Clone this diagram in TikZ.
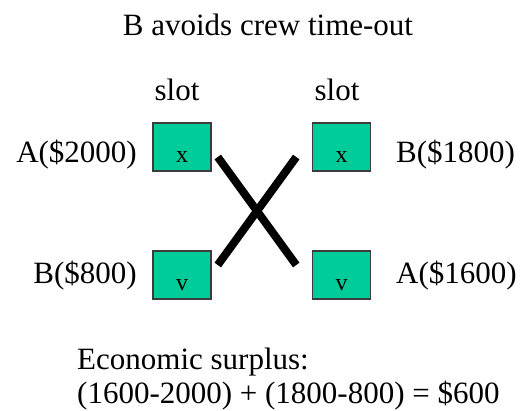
\documentclass[tikz,border=0pt]{standalone}
\usepackage{fontspec}
\setmainfont{Liberation Serif}
\usepackage{tikz}
\usetikzlibrary{positioning, calc}
\usepackage{xcolor}
\definecolor{slotgreen}{RGB}{0,204,153}
\definecolor{slotedge}{RGB}{60,60,60}

\begin{document}
\begin{tikzpicture}[x=1pt, y=1pt,
    slotbox/.style={draw=slotedge, line width=1.5pt, fill=slotgreen, minimum width=58pt, minimum height=48pt, inner sep=0pt, text height=33pt, text depth=3pt, font=\fontsize{24}{28}\selectfont},
    lbl/.style={font=\fontsize{31}{36}\selectfont, inner sep=0pt},
    swap/.style={line width=8pt, black}]
  \useasboundingbox (0,0) rectangle (521,-410);
  \node[lbl, anchor=base] (title) at (268,-35) {B avoids crew time-out};
  % slots
  \node[slotbox] (ax) at (182,-147) {x};
  \node[slotbox] (bv) at (182,-275) {v};
  \node[slotbox] (bx) at (341.5,-147) {x};
  \node[slotbox] (av) at (341.5,-275) {v};
  \node[lbl, anchor=base] (slotl) at (177,-100) {slot};
  \node[lbl, anchor=base] (slotr) at (337,-100) {slot};
  % flights
  \node[lbl, anchor=base east] (fa) at (137,-162) {A(\$2000)};
  \node[lbl, anchor=base east] (fb) at (137,-283) {B(\$800)};
  \node[lbl, anchor=base west] (fb2) at (396,-162) {B(\$1800)};
  \node[lbl, anchor=base west] (fa2) at (396,-283) {A(\$1600)};
  % swap
  \draw[swap] ([shift={(6,-10)}]ax.east) -- ([shift={(-15.5,10)}]av.west);
  \draw[swap] ([shift={(-15.5,-10)}]bx.west) -- ([shift={(6,10)}]bv.east);
  \node[lbl, anchor=base west] (surplus) at (77,-369) {Economic surplus:};
  \node[lbl, anchor=base west] (sum) at (77,-403) {(1600-2000) + (1800-800) = \$600};
\end{tikzpicture}
\end{document}
